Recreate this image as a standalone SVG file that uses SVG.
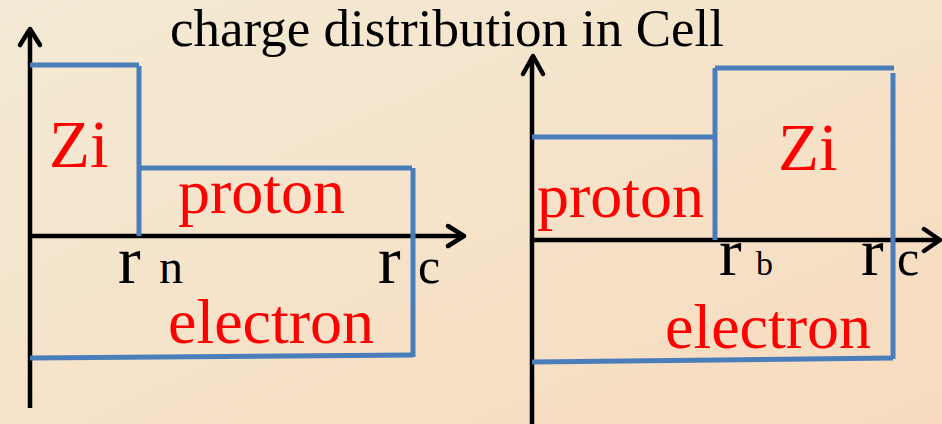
<svg xmlns="http://www.w3.org/2000/svg" width="942" height="424" viewBox="0 0 942 424">
<defs>
<linearGradient id="bg" x1="0" y1="0" x2="1" y2="1">
<stop offset="0" stop-color="#f3ead5"/>
<stop offset="1" stop-color="#f8dbbe"/>
</linearGradient>
</defs>
<style>
.ax{fill:none;stroke:#000;stroke-width:4.5}
.ah{fill:none;stroke:#000;stroke-width:4.5;stroke-linecap:round;stroke-linejoin:round}
.bl{fill:none;stroke:#4a7ebb;stroke-width:5}
.lab{font-family:"Liberation Serif","Times New Roman",serif;fill:#ff0000;font-size:64px}
.zi{font-size:67px}
.blk{font-family:"Liberation Serif","Times New Roman",serif;fill:#000}
</style>
<rect width="942" height="424" fill="url(#bg)"/>
<text class="blk" x="170" y="46" font-size="53">charge distribution in Cell</text>
<g id="left-panel">
<g id="left-axes">
<path class="ax" d="M30,408 V30"/>
<path class="ah" d="M20,45 L30,29 L40,45"/>
<path class="ax" d="M30,236 H463"/>
<path class="ah" d="M448,226 L464,236 L448,246"/>
</g>
<g id="left-curves">
<path class="bl" d="M30,65 H139 M139,66 V236"/>
<path class="bl" d="M139,168 H412 M413,168 V357"/>
<path class="bl" d="M30,358 L413,355"/>
</g>
<g id="left-labels">
<text class="lab zi" x="49" y="167">Zi</text>
<text class="lab" x="178" y="213">proton</text>
<text class="lab" x="168" y="343">electron</text>
<text class="blk" x="118" y="283" font-size="68">r</text>
<text class="blk" x="159" y="283" font-size="48">n</text>
<text class="blk" x="378" y="283" font-size="68">r</text>
<text class="blk" x="418" y="283" font-size="50">c</text>
</g>
</g>
<g id="right-panel">
<g id="right-axes">
<path class="ax" d="M532,424 V57"/>
<path class="ah" d="M523,74 L533,56 L543,74"/>
<path class="ax" d="M532,240 H939"/>
<path class="ah" d="M924,229 L940,240 L924,251"/>
</g>
<g id="right-curves">
<path class="bl" d="M532,137 H715 M715,68 V240"/>
<path class="bl" d="M715,68 H894 M893,73 V359"/>
<path class="bl" d="M532,362 L893,358"/>
</g>
<g id="right-labels">
<text class="lab zi" x="778" y="170">Zi</text>
<text class="lab" x="537" y="217">proton</text>
<text class="lab" x="665" y="348">electron</text>
<text class="blk" x="719" y="275" font-size="68">r</text>
<text class="blk" x="756" y="275" font-size="34">b</text>
<text class="blk" x="861" y="275" font-size="68">r</text>
<text class="blk" x="897" y="275" font-size="50">c</text>
</g>
</g>
</svg>
